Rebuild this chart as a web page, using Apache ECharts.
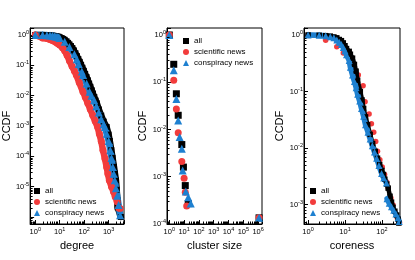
<!DOCTYPE html>
<html><head><meta charset="utf-8">
<script src="https://cdn.jsdelivr.net/npm/echarts@6/dist/echarts.min.js"></script>
<style>html,body{margin:0;padding:0;background:#fff}#c{width:415px;height:260px}</style>
</head><body><div id="c"></div>
<script>
const seriesNames = ['all', 'scientific news', 'conspiracy news'];
const xTitles = ['degree', 'cluster size', 'coreness'];
const yTitle = 'CCDF';

// ---- degree ----
const degAllX = [1,2,3,4,5,6,7,8,9,10,12,14,16,19,22,25,29,33,38,44,51,58,66,75,85,97,110,125,142,160,180,205,230,260,295,330,400,500,630,830,1000,1120,1290,1450,1660,1820,2000,2140,2290,2340,3160];
const degAllY = [1,0.989,0.977,0.966,0.955,0.933,0.912,0.891,0.871,0.832,0.79,0.74,0.69,0.62,0.55,0.49,0.43,0.37,0.31,0.25,0.2,0.16,0.13,0.104,0.083,0.066,0.052,0.041,0.032,0.025,0.0195,0.015,0.0117,0.009,0.0069,0.0056,0.0035,0.0022,0.0014,0.00093,0.00052,0.00032,0.00016,0.000089,0.000045,0.000027,0.000016,0.0000079,0.0000035,0.0000021,0.000001];
const degSciX = [1,2,3,4,5,6,7,8,9,10,13,16,20,25,32,40,48,63,89,112,141,178,224,282,355,417,501,589,708,832,933,1072,1318,1585,1862,2239,2630,2951];
const degSciY = [1,0.794,0.759,0.708,0.661,0.617,0.575,0.537,0.501,0.468,0.38,0.302,0.214,0.141,0.0933,0.0646,0.0479,0.0269,0.0135,0.0089,0.00562,0.00355,0.00224,0.00145,0.00093,0.00056,0.000316,0.000158,0.000085,0.0000447,0.0000269,0.0000162,0.00001,0.0000068,0.0000047,0.0000032,0.000002,0.0000019];
const degConX = [1,2,3,4,5,6,7,8,9,10,16,25,40,50,60,80,91,126,166,200,257,316,398,501,631,708,832,1000,1175,1318,1479,1622,1778,1995,2239,2570,2951];
const degConY = [1,0.99,0.975,0.96,0.94,0.915,0.89,0.865,0.835,0.79,0.6,0.4,0.23,0.16,0.11,0.063,0.048,0.025,0.0135,0.01,0.0071,0.0045,0.0028,0.00166,0.00112,0.00093,0.00056,0.00032,0.00016,0.000089,0.0000447,0.0000269,0.0000162,0.0000089,0.000005,0.0000025,0.00000115];

// ---- cluster size ----
const cluAllX = [1,2,3,4,7,9,12,19,1150000];
const cluAllY = [1,0.24,0.057,0.020,0.0048,0.0016,0.00065,0.00027,0.000135];
const cluSciX = [1,2,3,4,7,10,12,15,1150000];
const cluSciY = [1,0.11,0.027,0.0085,0.0021,0.00093,0.00047,0.00024,0.000135];
const cluConX = [1,2,3,4,5,7,8,13,19,28,1150000];
const cluConY = [1,0.18,0.044,0.0155,0.0069,0.0039,0.00135,0.00049,0.00037,0.00027,0.000135];

// ---- coreness ----
const corAllX = [1,2,3,4,5,6,7,8,9,10,11,13,14,16,18,20,22,26,29,32,36,41,48,56,66,76,87,100,110,120,135,148,166,182,200,224,251,275,288];
const corAllY = [1,0.989,0.973,0.955,0.923,0.891,0.832,0.794,0.724,0.646,0.575,0.513,0.457,0.389,0.302,0.229,0.158,0.1,0.0708,0.0501,0.0355,0.0257,0.0174,0.012,0.0087,0.0066,0.0051,0.004,0.0034,0.0028,0.0023,0.00195,0.0014,0.0011,0.00089,0.00076,0.00065,0.00055,0.00047];
const corSciX = [1,3,6,9,23,31,35,45,52,60,68,76,88,102,118,135,148,175,200,224,260,300];
const corSciY = [1,0.81,0.62,0.48,0.195,0.126,0.066,0.04,0.027,0.019,0.013,0.0088,0.0062,0.0046,0.0034,0.0025,0.00195,0.0013,0.00098,0.00074,0.00058,0.00048];
const corConX = [1,2,3,4,5,6,7,8,9,10,11,13,14,16,18,20,22,25,28,32,36,42,48,55,63,72,83,98,112,132,null,138,158,182,209,240,275,295];
const corConY = [1,0.989,0.966,0.933,0.891,0.813,0.741,0.676,0.603,0.525,0.447,0.355,0.269,0.195,0.151,0.117,0.0891,0.0676,0.0501,0.0363,0.0257,0.0191,0.0145,0.011,0.0085,0.0066,0.0049,0.00355,0.00295,0.0024,null,0.00126,0.00105,0.00091,0.00079,0.00068,0.00058,0.0005];

// tick label exponents
const degXTicks = [0,1,2,3], degYTicks = [0,-1,-2,-3,-4,-5];
const cluXTicks = [0,1,2,3,4,5,6], cluYTicks = [0,-1,-2,-3,-4];
const corXTicks = [0,1,2], corYTicks = [0,-1,-2,-3];

const FONT = 'Liberation Sans, Arial, Helvetica, sans-serif';
const C_ALL = '#000000', C_SCI = '#f23c3c', C_CON = '#1e80d0';

function pairs(xs, ys) { return xs.map((x, i) => (x === null ? '-' : [x, ys[i]])); }

const grids = [
  {left: 28, top: 28, width: 96, height: 196},
  {left: 167, top: 28, width: 95, height: 196},
  {left: 304, top: 28, width: 96, height: 196}
];
const ranges = [
  {x: [-0.21, 3.63], y: [-6.23, 0.23], xt: degXTicks, yt: degYTicks},
  {x: [-0.155, 6.26], y: [-4.0, 0.148], xt: cluXTicks, yt: cluYTicks},
  {x: [-0.11, 2.49], y: [-3.345, 0.124], xt: corXTicks, yt: corYTicks}
];

function fmt(list) {
  return function (v) {
    const e = Math.log10(v), r = Math.round(e);
    if (Math.abs(e - r) > 1e-6 || list.indexOf(r) < 0) return '';
    return '{b|10}{e|' + (r < 0 ? '-' + (-r) : r) + '}';
  };
}
const rich = {
  b: {fontSize: 7.5, fontFamily: FONT, color: '#000'},
  e: {fontSize: 5.5, fontFamily: FONT, color: '#000', padding: [0, 0, 5, 0]}
};

function minorVals(lo, hi) {
  const out = [];
  for (let k = Math.floor(lo) - 1; k <= Math.ceil(hi); k++) {
    for (let m = 2; m <= 9; m++) {
      const v = m * Math.pow(10, k);
      const l = Math.log10(v);
      if (l > lo && l < hi) out.push(v);
    }
  }
  return out;
}

const xAxis = [], yAxis = [], series = [];
ranges.forEach((r, i) => {
  xAxis.push({
    type: 'log', logBase: 10, gridIndex: i,
    min: Math.pow(10, r.x[0]), max: Math.pow(10, r.x[1]),
    axisLine: {lineStyle: {color: '#000', width: 1}},
    axisTick: {inside: true, length: 4, lineStyle: {color: '#000'}},
    axisLabel: {formatter: fmt(r.xt), rich: rich, margin: 2},
    splitLine: {show: false},
    name: xTitles[i], nameLocation: 'middle', nameGap: 12,
    nameTextStyle: {fontSize: 11, fontFamily: FONT, color: '#000'}
  });
  yAxis.push({
    type: 'log', logBase: 10, gridIndex: i,
    min: Math.pow(10, r.y[0]), max: Math.pow(10, r.y[1]),
    axisLine: {lineStyle: {color: '#000', width: 1}},
    axisTick: {inside: true, length: 4, lineStyle: {color: '#000'}},
    axisLabel: {formatter: fmt(r.yt), rich: rich, margin: 1},
    splitLine: {show: false},
    name: yTitle, nameLocation: 'middle', nameGap: 18,
    nameTextStyle: {fontSize: 11, fontFamily: FONT, color: '#000'}
  });
  // minor ticks (axis decoration)
  series.push({
    type: 'custom', xAxisIndex: i, yAxisIndex: i, silent: true, clip: false, z: 5,
    data: minorVals(r.y[0], r.y[1]).map(v => [1, v]),
    renderItem: function (params, api) {
      const cs = params.coordSys;
      const p = api.coord([api.value(0), api.value(1)]);
      const y = Math.round(p[1]) + 0.5;
      return {type: 'line', shape: {x1: cs.x, y1: y, x2: cs.x + 2.5, y2: y}, style: {stroke: '#000', lineWidth: 1}};
    }
  });
  series.push({
    type: 'custom', xAxisIndex: i, yAxisIndex: i, silent: true, clip: false, z: 5,
    data: minorVals(r.x[0], r.x[1]).map(v => [v, 0.5]),
    renderItem: function (params, api) {
      const cs = params.coordSys;
      const p = api.coord([api.value(0), api.value(1)]);
      const x = Math.round(p[0]) + 0.5;
      const yb = cs.y + cs.height;
      return {type: 'line', shape: {x1: x, y1: yb, x2: x, y2: yb - 2.5}, style: {stroke: '#000', lineWidth: 1}};
    }
  });
});

function lineS(name, color, sym, size, lw, data, gi) {
  return {
    name: name, type: 'line', xAxisIndex: gi, yAxisIndex: gi, data: data,
    symbol: sym, symbolSize: size, showAllSymbol: true, connectNulls: false,
    itemStyle: {color: color, borderWidth: 0}, lineStyle: {color: color, width: lw, join: 'round', cap: 'round'},
    emphasis: {disabled: true}
  };
}
function scatS(name, color, sym, size, data, gi) {
  return {
    name: name, type: 'scatter', xAxisIndex: gi, yAxisIndex: gi, data: data,
    symbol: sym, symbolSize: size, itemStyle: {color: color, opacity: 1},
    emphasis: {disabled: true}
  };
}

// degree panel
series.push(lineS('all', C_ALL, 'rect', 6, 6.5, pairs(degAllX, degAllY), 0));
series.push(lineS('scientific news', C_SCI, 'circle', 7, 6.5, pairs(degSciX, degSciY), 0));
series.push(lineS('conspiracy news', C_CON, 'triangle', 8, 6.5, pairs(degConX, degConY), 0));
// cluster panel
series.push(scatS('all', C_ALL, 'rect', 7, pairs(cluAllX, cluAllY), 1));
series.push(scatS('scientific news', C_SCI, 'circle', 7, pairs(cluSciX, cluSciY), 1));
series.push(scatS('conspiracy news', C_CON, 'triangle', 8, pairs(cluConX, cluConY), 1));
// coreness panel
series.push(lineS('all', C_ALL, 'rect', 5.5, 4.5, pairs(corAllX, corAllY), 2));
series.push(scatS('scientific news', C_SCI, 'circle', 5.5, pairs(corSciX, corSciY), 2));
series.push(lineS('conspiracy news', C_CON, 'triangle', 7, 5.5, pairs(corConX, corConY), 2));

function legend(left, top) {
  return {
    left: left, top: top, orient: 'vertical', itemWidth: 6, itemHeight: 6, itemGap: 3,
    padding: 0, selectedMode: false,
    textStyle: {fontSize: 8, fontFamily: FONT, color: '#000'},
    data: [{name: seriesNames[0], icon: 'rect'}, {name: seriesNames[1], icon: 'circle'}, {name: seriesNames[2], icon: 'triangle'}]
  };
}

const chart = echarts.init(document.getElementById('c'), null, {renderer: 'canvas'});
chart.setOption({
  animation: false,
  backgroundColor: '#fff',
  grid: grids.map(g => Object.assign({show: true, borderColor: '#000', borderWidth: 1, backgroundColor: 'transparent'}, g)),
  legend: [legend(34, 187), legend(183, 37), legend(310, 187)],
  xAxis: xAxis, yAxis: yAxis, series: series
});
</script></body></html>
